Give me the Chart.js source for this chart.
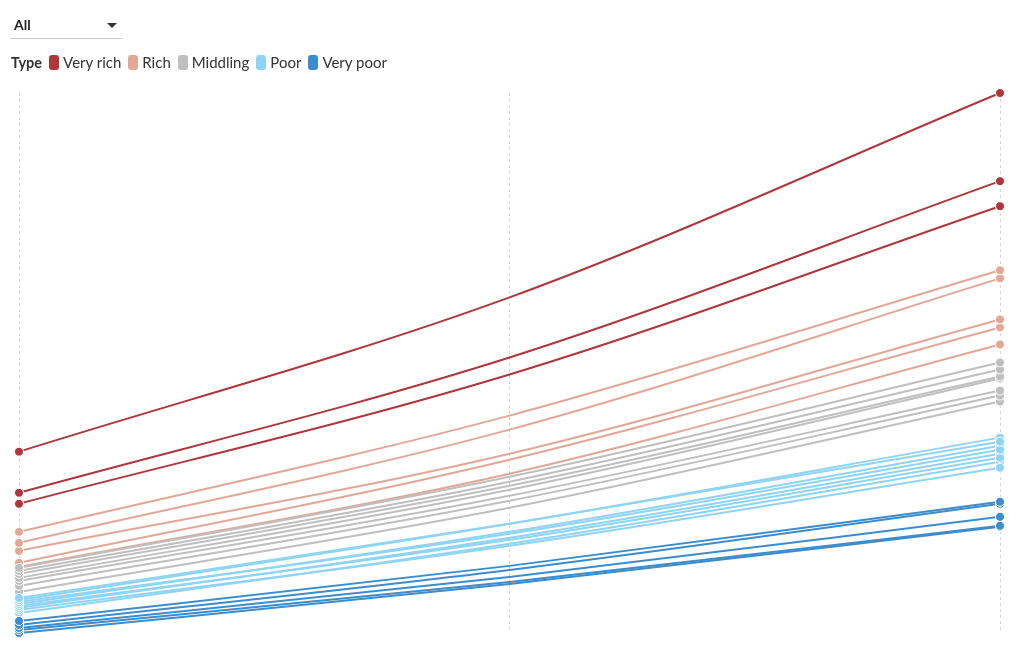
<!DOCTYPE html>
<html>
<head>
<meta charset="utf-8">
<script src="https://cdn.jsdelivr.net/npm/chart.js@4"></script>
<style>
  body { margin: 0; background: #fff; font-family: "Source Sans Pro", Lato, "Noto Sans", sans-serif; color: #333; }
  #wrap { position: relative; width: 1020px; height: 650px; }
  #flowChart { position: absolute; left: 0; top: 0; }
  .select { position: absolute; left: 10px; top: 13px; width: 112px; height: 25px; border-bottom: 1px solid #ccc; }
  .select span { position: absolute; left: 4px; top: 3px; font-weight: bold; font-size: 14px; color: #222; }
  .select i { position: absolute; left: 97px; top: 10px; width: 0; height: 0; border-left: 5.5px solid transparent; border-right: 5.5px solid transparent; border-top: 5px solid #333; }
  .legend { position: absolute; left: 11px; top: 53px; display: flex; align-items: center; font-size: 15px; color: #333; }
  .legend b { margin-right: 7px; font-size: 14.5px; }
  .legend .item { display: flex; align-items: center; margin-right: 7px; }
  .legend .sw { width: 10px; height: 15px; border-radius: 3px; margin-right: 4px; }
</style>
</head>
<body>
<div id="wrap">
  <canvas id="flowChart" width="1020" height="650"></canvas>
  <div class="select"><span>All</span><i></i></div>
  <div class="legend" id="legend"><b>Type</b></div>
</div>
<script>
// --- DONNÉES ---
const periods = ["Start", "Middle", "End"];

const groups = ["Very rich", "Rich", "Middling", "Poor", "Very poor"];
const groupColors = ["#b0363b", "#e3a796", "#bfbfbf", "#8fd4f3", "#3b8dcd"];

// chaque ligne : [début, milieu, fin]
const veryRich = [[474, 628, 832], [433, 568, 744], [422, 551, 719]];
const rich = [[394, 510, 655], [383, 496, 647], [375, 472, 606], [363, 466, 598], [359, 452, 581]];
const middling = [[358, 449, 563], [355, 444, 556], [352, 440, 549], [348, 436, 547], [345, 430, 535], [340, 425, 530], [334, 418, 524]];
const poor = [[328, 402, 484], [326, 402, 488], [324, 392, 476], [322, 394, 480], [320, 386, 468], [318, 388, 472], [316, 380, 458], [313, 382, 464]];
const veryPoor = [[305, 360, 424], [301, 356, 422], [298, 349, 409], [296, 344, 400], [293, 342, 399]];

const yMin = 293;
const yMax = 832;

// --- LÉGENDE ---
const legendEl = document.getElementById("legend");
groups.forEach((g, i) => {
    legendEl.innerHTML += `<div class="item"><div class="sw" style="background:${groupColors[i]}"></div>${g}</div>`;
});

// --- DATASETS ---
const allGroups = [veryRich, rich, middling, poor, veryPoor];
const lineOrder = [2, 5, 4, 3, 1]; // les groupes foncés au-dessus
const datasets = [];
allGroups.forEach((lines, gi) => {
    lines.forEach(vals => {
        // la ligne
        datasets.push({
            label: groups[gi],
            data: vals,
            borderColor: groupColors[gi],
            borderWidth: 2,
            pointRadius: 0,
            cubicInterpolationMode: "monotone",
            clip: false,
            order: lineOrder[gi]
        });
        // les points aux extrémités, par-dessus toutes les lignes
        datasets.push({
            label: groups[gi],
            data: [vals[0], null, vals[2]],
            showLine: false,
            backgroundColor: groupColors[gi],
            pointRadius: 4.5,
            pointBorderColor: "#fff",
            pointBorderWidth: 1,
            clip: false,
            order: lineOrder[gi] - 10
        });
    });
});

new Chart(document.getElementById("flowChart"), {
    type: "line",
    data: { labels: periods, datasets: datasets },
    options: {
        responsive: false,
        animation: false,
        layout: { padding: { left: 19, right: 20, top: 93, bottom: 17 } },
        plugins: { legend: { display: false }, tooltip: { enabled: false } },
        scales: {
            x: {
                ticks: { display: false },
                border: { display: false, dash: [3, 3] },
                grid: { color: "#d6d6d6", lineWidth: 1, drawTicks: false },
                offset: false
            },
            y: { display: false, min: yMin, max: yMax }
        }
    }
});
</script>
</body>
</html>
